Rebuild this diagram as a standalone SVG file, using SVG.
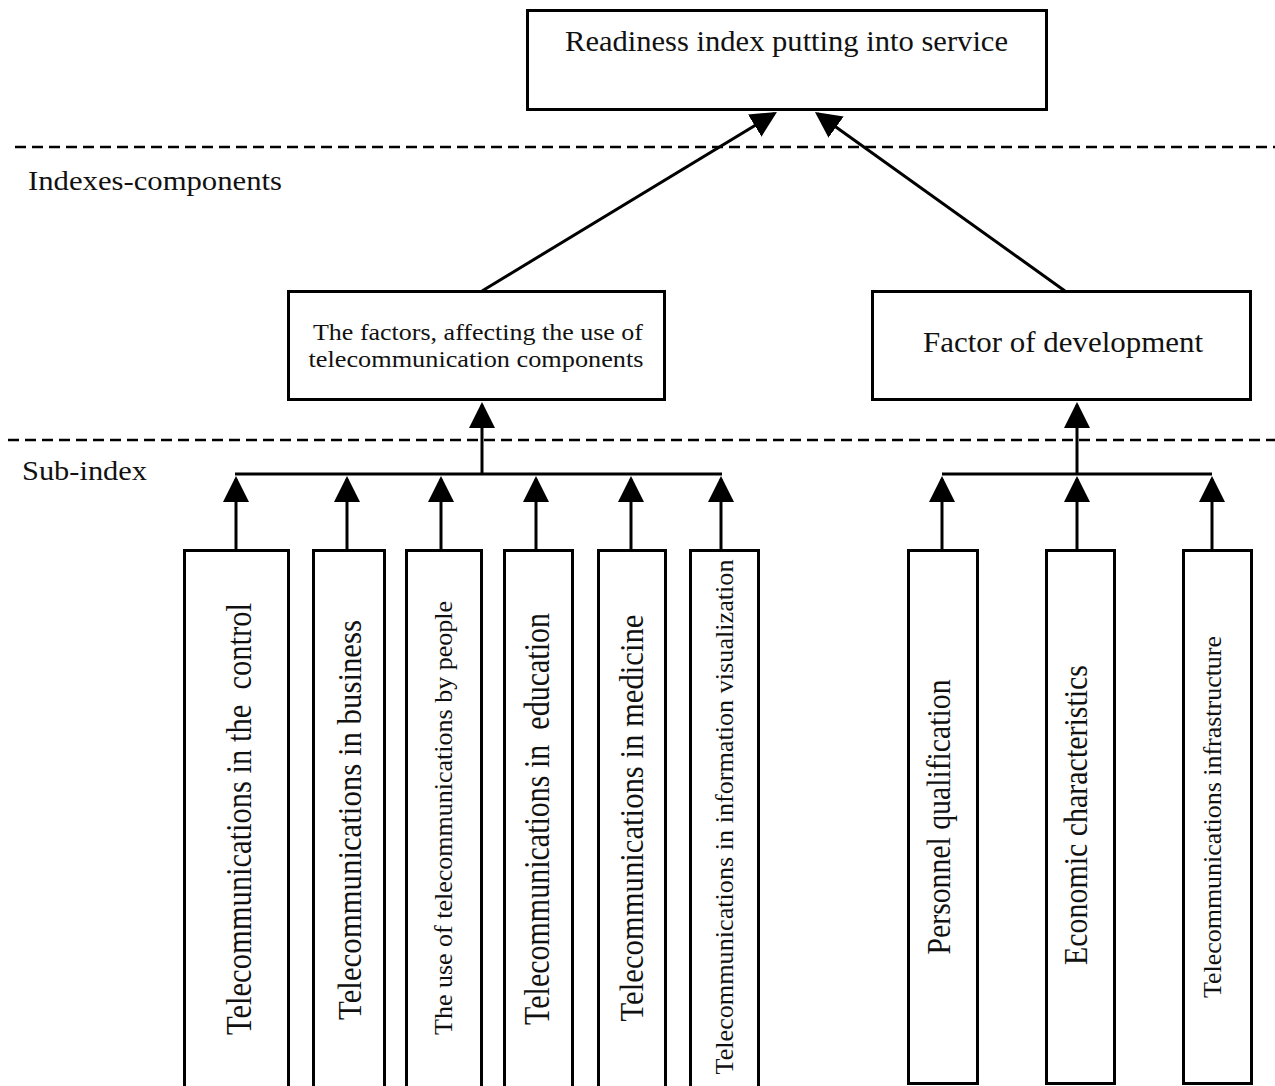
<svg xmlns="http://www.w3.org/2000/svg" width="1275" height="1086" viewBox="0 0 1275 1086" font-family="'Liberation Serif', 'Times New Roman', serif">
<style>
.box{fill:#fff;stroke:#000;stroke-width:3}
.dash{stroke:#000;stroke-width:2.5;stroke-dasharray:11 6;fill:none}
.con{stroke:#000;stroke-width:3;fill:none}
.arr{marker-end:url(#ah)}
text{font-family:'Liberation Serif','Times New Roman',serif;fill:#111}
.v{text-anchor:middle;white-space:pre}
.c{text-anchor:middle}
</style>
<defs>
<marker id="ah" markerUnits="userSpaceOnUse" markerWidth="26" markerHeight="26" viewBox="0 0 26 26" refX="23" refY="13" orient="auto">
<path d="M0,0 L26,13 L0,26 z" fill="#000"/>
</marker>
</defs>
<rect width="1275" height="1086" fill="#fff"/>

<line class="dash" x1="15" y1="147" x2="1275" y2="147"/>
<line class="dash" x1="8" y1="440" x2="1275" y2="440"/>
<text x="28" y="190" font-size="27" textLength="254" lengthAdjust="spacingAndGlyphs">Indexes-components</text>
<text x="22" y="480" font-size="27" textLength="125" lengthAdjust="spacingAndGlyphs">Sub-index</text>

<g id="connectors">
<line class="con arr" x1="482" y1="291" x2="774.4" y2="113.6"/>
<line class="con arr" x1="1065" y1="291" x2="817.4" y2="113.7"/>
<line class="con arr" x1="482" y1="474" x2="482" y2="405"/>
<line class="con arr" x1="1077" y1="474" x2="1077" y2="405"/>
<line class="con" x1="235" y1="474" x2="722" y2="474"/>
<line class="con" x1="942" y1="474" x2="1212" y2="474"/>
<line class="con arr" x1="236" y1="550" x2="236" y2="479"/>
<line class="con arr" x1="347" y1="550" x2="347" y2="479"/>
<line class="con arr" x1="441" y1="550" x2="441" y2="479"/>
<line class="con arr" x1="536" y1="550" x2="536" y2="479"/>
<line class="con arr" x1="631" y1="550" x2="631" y2="479"/>
<line class="con arr" x1="721" y1="550" x2="721" y2="479"/>
<line class="con arr" x1="942" y1="550" x2="942" y2="479"/>
<line class="con arr" x1="1077" y1="550" x2="1077" y2="479"/>
<line class="con arr" x1="1212" y1="550" x2="1212" y2="479"/>
</g>

<g id="readiness">
<rect class="box" x="527.5" y="10.5" width="519" height="99"/>
<text class="c" x="786.5" y="51" font-size="29" textLength="443" lengthAdjust="spacingAndGlyphs">Readiness index putting into service</text>
</g>
<g id="factors-use">
<rect class="box" x="288.5" y="291.5" width="376" height="108"/>
<text class="c" x="478" y="340" font-size="24" textLength="330" lengthAdjust="spacingAndGlyphs">The factors, affecting the use of</text>
<text class="c" x="476" y="367" font-size="24" textLength="335" lengthAdjust="spacingAndGlyphs">telecommunication components</text>
</g>
<g id="factor-dev">
<rect class="box" x="872.5" y="291.5" width="378" height="108"/>
<text class="c" x="1063" y="352" font-size="29" textLength="280" lengthAdjust="spacingAndGlyphs">Factor of development</text>
</g>

<g id="s1"><rect class="box" x="184.5" y="550.5" width="104" height="560"/>
<text class="v" xml:space="preserve" transform="translate(251,819) rotate(-90)" font-size="35" textLength="432" lengthAdjust="spacingAndGlyphs">Telecommunications in the  control</text></g>
<g id="s2"><rect class="box" x="313.5" y="550.5" width="71" height="560"/>
<text class="v" transform="translate(361,820) rotate(-90)" font-size="33" textLength="400" lengthAdjust="spacingAndGlyphs">Telecommunications in business</text></g>
<g id="s3"><rect class="box" x="406.5" y="550.5" width="75" height="560"/>
<text class="v" transform="translate(452,818) rotate(-90)" font-size="26" textLength="434" lengthAdjust="spacingAndGlyphs">The use of telecommunications by people</text></g>
<g id="s4"><rect class="box" x="504.5" y="550.5" width="68" height="560"/>
<text class="v" xml:space="preserve" transform="translate(549,819) rotate(-90)" font-size="35" textLength="412" lengthAdjust="spacingAndGlyphs">Telecommunications in  education</text></g>
<g id="s5"><rect class="box" x="598.5" y="550.5" width="67" height="560"/>
<text class="v" transform="translate(643,818) rotate(-90)" font-size="33" textLength="407" lengthAdjust="spacingAndGlyphs">Telecommunications in medicine</text></g>
<g id="s6"><rect class="box" x="690.5" y="550.5" width="68" height="560"/>
<text class="v" transform="translate(733,817) rotate(-90)" font-size="26" textLength="515" lengthAdjust="spacingAndGlyphs">Telecommunications in information visualization</text></g>
<g id="s7"><rect class="box" x="908.5" y="550.5" width="69" height="533"/>
<text class="v" transform="translate(950,817) rotate(-90)" font-size="33" textLength="275" lengthAdjust="spacingAndGlyphs">Personnel qualification</text></g>
<g id="s8"><rect class="box" x="1046.5" y="550.5" width="68" height="533"/>
<text class="v" transform="translate(1087,815) rotate(-90)" font-size="33" textLength="300" lengthAdjust="spacingAndGlyphs">Economic characteristics</text></g>
<g id="s9"><rect class="box" x="1183.5" y="550.5" width="68" height="533"/>
<text class="v" transform="translate(1221,817) rotate(-90)" font-size="25" textLength="362" lengthAdjust="spacingAndGlyphs">Telecommunications infrastructure</text></g>
</svg>
